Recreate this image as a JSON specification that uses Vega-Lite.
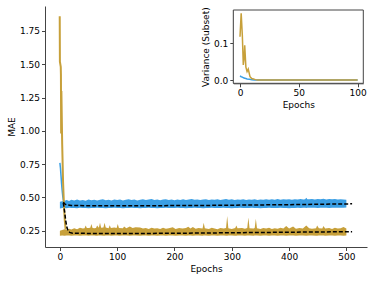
{
  "$schema": "https://vega.github.io/schema/vega-lite/v6.json",
  "width": 322,
  "height": 241,
  "autosize": "none",
  "padding": {"left": 45, "top": 6, "right": 7, "bottom": 34},
  "config": {
    "view": {"stroke": null},
    "font": "DejaVu Sans",
    "axis": {
      "grid": false,
      "domainColor": "#444444",
      "tickColor": "#444444",
      "domainWidth": 1,
      "tickWidth": 1,
      "tickSize": 3.5,
      "labelFont": "DejaVu Sans",
      "titleFont": "DejaVu Sans",
      "labelFontSize": 9,
      "titleFontSize": 9,
      "labelColor": "#000000",
      "titleColor": "#000000",
      "titleFontWeight": "normal",
      "labelPadding": 2,
      "titlePadding": 3
    }
  },
  "datasets": {
    "blueBand": [
      {"epoch": 0, "hi": 0.468, "lo": 0.418}, {"epoch": 4, "hi": 0.472, "lo": 0.42}, {"epoch": 8, "hi": 0.476, "lo": 0.421},
      {"epoch": 12, "hi": 0.48, "lo": 0.419}, {"epoch": 16, "hi": 0.474, "lo": 0.422}, {"epoch": 20, "hi": 0.482, "lo": 0.42},
      {"epoch": 25, "hi": 0.477, "lo": 0.421}, {"epoch": 30, "hi": 0.484, "lo": 0.419}, {"epoch": 35, "hi": 0.478, "lo": 0.422},
      {"epoch": 40, "hi": 0.481, "lo": 0.42}, {"epoch": 45, "hi": 0.476, "lo": 0.421}, {"epoch": 50, "hi": 0.485, "lo": 0.419},
      {"epoch": 55, "hi": 0.479, "lo": 0.421}, {"epoch": 60, "hi": 0.483, "lo": 0.42}, {"epoch": 65, "hi": 0.477, "lo": 0.422},
      {"epoch": 70, "hi": 0.482, "lo": 0.42}, {"epoch": 75, "hi": 0.486, "lo": 0.421}, {"epoch": 80, "hi": 0.479, "lo": 0.419},
      {"epoch": 85, "hi": 0.483, "lo": 0.421}, {"epoch": 90, "hi": 0.478, "lo": 0.42}, {"epoch": 95, "hi": 0.484, "lo": 0.422},
      {"epoch": 100, "hi": 0.48, "lo": 0.42}, {"epoch": 105, "hi": 0.485, "lo": 0.421}, {"epoch": 110, "hi": 0.478, "lo": 0.419},
      {"epoch": 115, "hi": 0.482, "lo": 0.421}, {"epoch": 120, "hi": 0.487, "lo": 0.42}, {"epoch": 125, "hi": 0.48, "lo": 0.422},
      {"epoch": 130, "hi": 0.484, "lo": 0.42}, {"epoch": 135, "hi": 0.478, "lo": 0.421}, {"epoch": 140, "hi": 0.483, "lo": 0.419},
      {"epoch": 145, "hi": 0.486, "lo": 0.421}, {"epoch": 150, "hi": 0.48, "lo": 0.42}, {"epoch": 155, "hi": 0.484, "lo": 0.422},
      {"epoch": 160, "hi": 0.489, "lo": 0.42}, {"epoch": 165, "hi": 0.481, "lo": 0.421}, {"epoch": 170, "hi": 0.485, "lo": 0.419},
      {"epoch": 175, "hi": 0.479, "lo": 0.421}, {"epoch": 180, "hi": 0.484, "lo": 0.42}, {"epoch": 185, "hi": 0.487, "lo": 0.422},
      {"epoch": 190, "hi": 0.481, "lo": 0.42}, {"epoch": 195, "hi": 0.485, "lo": 0.421}, {"epoch": 200, "hi": 0.479, "lo": 0.42},
      {"epoch": 205, "hi": 0.484, "lo": 0.422}, {"epoch": 210, "hi": 0.481, "lo": 0.42}, {"epoch": 215, "hi": 0.486, "lo": 0.421},
      {"epoch": 220, "hi": 0.48, "lo": 0.419}, {"epoch": 225, "hi": 0.484, "lo": 0.421}, {"epoch": 230, "hi": 0.488, "lo": 0.42},
      {"epoch": 235, "hi": 0.482, "lo": 0.422}, {"epoch": 240, "hi": 0.485, "lo": 0.42}, {"epoch": 245, "hi": 0.48, "lo": 0.421},
      {"epoch": 250, "hi": 0.484, "lo": 0.419}, {"epoch": 255, "hi": 0.487, "lo": 0.421}, {"epoch": 260, "hi": 0.481, "lo": 0.42},
      {"epoch": 265, "hi": 0.485, "lo": 0.422}, {"epoch": 270, "hi": 0.482, "lo": 0.42}, {"epoch": 275, "hi": 0.486, "lo": 0.421},
      {"epoch": 280, "hi": 0.48, "lo": 0.42}, {"epoch": 285, "hi": 0.484, "lo": 0.422}, {"epoch": 290, "hi": 0.489, "lo": 0.42},
      {"epoch": 295, "hi": 0.483, "lo": 0.421}, {"epoch": 300, "hi": 0.486, "lo": 0.419}, {"epoch": 305, "hi": 0.481, "lo": 0.421},
      {"epoch": 310, "hi": 0.485, "lo": 0.42}, {"epoch": 315, "hi": 0.482, "lo": 0.422}, {"epoch": 320, "hi": 0.487, "lo": 0.42},
      {"epoch": 325, "hi": 0.481, "lo": 0.421}, {"epoch": 330, "hi": 0.485, "lo": 0.42}, {"epoch": 335, "hi": 0.483, "lo": 0.422},
      {"epoch": 340, "hi": 0.486, "lo": 0.42}, {"epoch": 345, "hi": 0.481, "lo": 0.421}, {"epoch": 350, "hi": 0.485, "lo": 0.419},
      {"epoch": 355, "hi": 0.483, "lo": 0.421}, {"epoch": 360, "hi": 0.487, "lo": 0.42}, {"epoch": 365, "hi": 0.482, "lo": 0.422},
      {"epoch": 370, "hi": 0.486, "lo": 0.42}, {"epoch": 375, "hi": 0.483, "lo": 0.421}, {"epoch": 380, "hi": 0.488, "lo": 0.42},
      {"epoch": 385, "hi": 0.482, "lo": 0.422}, {"epoch": 390, "hi": 0.486, "lo": 0.42}, {"epoch": 395, "hi": 0.484, "lo": 0.421},
      {"epoch": 400, "hi": 0.487, "lo": 0.419}, {"epoch": 405, "hi": 0.483, "lo": 0.421}, {"epoch": 410, "hi": 0.486, "lo": 0.42},
      {"epoch": 415, "hi": 0.484, "lo": 0.422}, {"epoch": 420, "hi": 0.488, "lo": 0.421}, {"epoch": 425, "hi": 0.485, "lo": 0.422},
      {"epoch": 428, "hi": 0.487, "lo": 0.422}, {"epoch": 430, "hi": 0.497, "lo": 0.421}, {"epoch": 432, "hi": 0.487, "lo": 0.422},
      {"epoch": 435, "hi": 0.486, "lo": 0.423}, {"epoch": 440, "hi": 0.489, "lo": 0.422}, {"epoch": 445, "hi": 0.485, "lo": 0.423},
      {"epoch": 450, "hi": 0.488, "lo": 0.421}, {"epoch": 455, "hi": 0.486, "lo": 0.423}, {"epoch": 460, "hi": 0.49, "lo": 0.422},
      {"epoch": 465, "hi": 0.485, "lo": 0.423}, {"epoch": 470, "hi": 0.489, "lo": 0.421}, {"epoch": 475, "hi": 0.486, "lo": 0.423},
      {"epoch": 480, "hi": 0.488, "lo": 0.422}, {"epoch": 485, "hi": 0.485, "lo": 0.423}, {"epoch": 490, "hi": 0.487, "lo": 0.422},
      {"epoch": 495, "hi": 0.484, "lo": 0.423}, {"epoch": 500, "hi": 0.482, "lo": 0.424}
    ],
    "goldBand": [
      {"epoch": 0, "hi": 0.25, "lo": 0.213}, {"epoch": 4, "hi": 0.255, "lo": 0.214}, {"epoch": 8, "hi": 0.262, "lo": 0.213},
      {"epoch": 12, "hi": 0.258, "lo": 0.215}, {"epoch": 16, "hi": 0.265, "lo": 0.214}, {"epoch": 20, "hi": 0.26, "lo": 0.213},
      {"epoch": 25, "hi": 0.268, "lo": 0.215}, {"epoch": 30, "hi": 0.262, "lo": 0.214}, {"epoch": 35, "hi": 0.272, "lo": 0.213},
      {"epoch": 40, "hi": 0.266, "lo": 0.215}, {"epoch": 43, "hi": 0.268, "lo": 0.214}, {"epoch": 45, "hi": 0.29, "lo": 0.214},
      {"epoch": 47, "hi": 0.27, "lo": 0.214}, {"epoch": 50, "hi": 0.27, "lo": 0.213}, {"epoch": 53, "hi": 0.272, "lo": 0.215},
      {"epoch": 55, "hi": 0.3, "lo": 0.215}, {"epoch": 57, "hi": 0.27, "lo": 0.215}, {"epoch": 60, "hi": 0.268, "lo": 0.214},
      {"epoch": 63, "hi": 0.27, "lo": 0.213}, {"epoch": 65, "hi": 0.29, "lo": 0.213}, {"epoch": 68, "hi": 0.272, "lo": 0.215},
      {"epoch": 70, "hi": 0.31, "lo": 0.215}, {"epoch": 72, "hi": 0.272, "lo": 0.214}, {"epoch": 76, "hi": 0.274, "lo": 0.213},
      {"epoch": 78, "hi": 0.31, "lo": 0.213}, {"epoch": 80, "hi": 0.275, "lo": 0.214}, {"epoch": 85, "hi": 0.268, "lo": 0.215},
      {"epoch": 87, "hi": 0.292, "lo": 0.214}, {"epoch": 89, "hi": 0.27, "lo": 0.213}, {"epoch": 95, "hi": 0.275, "lo": 0.215},
      {"epoch": 99, "hi": 0.27, "lo": 0.214}, {"epoch": 101, "hi": 0.3, "lo": 0.214}, {"epoch": 103, "hi": 0.27, "lo": 0.213},
      {"epoch": 110, "hi": 0.268, "lo": 0.215}, {"epoch": 112, "hi": 0.282, "lo": 0.215}, {"epoch": 116, "hi": 0.268, "lo": 0.214},
      {"epoch": 122, "hi": 0.282, "lo": 0.213}, {"epoch": 127, "hi": 0.27, "lo": 0.215}, {"epoch": 132, "hi": 0.276, "lo": 0.214},
      {"epoch": 140, "hi": 0.275, "lo": 0.213}, {"epoch": 145, "hi": 0.266, "lo": 0.215}, {"epoch": 150, "hi": 0.27, "lo": 0.214},
      {"epoch": 155, "hi": 0.264, "lo": 0.213}, {"epoch": 160, "hi": 0.272, "lo": 0.215}, {"epoch": 165, "hi": 0.266, "lo": 0.214},
      {"epoch": 170, "hi": 0.268, "lo": 0.213}, {"epoch": 175, "hi": 0.263, "lo": 0.215}, {"epoch": 180, "hi": 0.272, "lo": 0.214},
      {"epoch": 185, "hi": 0.265, "lo": 0.213}, {"epoch": 190, "hi": 0.268, "lo": 0.215}, {"epoch": 197, "hi": 0.276, "lo": 0.214},
      {"epoch": 202, "hi": 0.264, "lo": 0.213}, {"epoch": 208, "hi": 0.27, "lo": 0.215}, {"epoch": 214, "hi": 0.266, "lo": 0.214},
      {"epoch": 220, "hi": 0.27, "lo": 0.213}, {"epoch": 224, "hi": 0.28, "lo": 0.215}, {"epoch": 228, "hi": 0.266, "lo": 0.214},
      {"epoch": 232, "hi": 0.278, "lo": 0.213}, {"epoch": 237, "hi": 0.265, "lo": 0.215}, {"epoch": 242, "hi": 0.27, "lo": 0.214},
      {"epoch": 249, "hi": 0.266, "lo": 0.213}, {"epoch": 251, "hi": 0.31, "lo": 0.214}, {"epoch": 253, "hi": 0.268, "lo": 0.214},
      {"epoch": 260, "hi": 0.264, "lo": 0.213}, {"epoch": 265, "hi": 0.272, "lo": 0.215}, {"epoch": 270, "hi": 0.266, "lo": 0.214},
      {"epoch": 275, "hi": 0.262, "lo": 0.213}, {"epoch": 280, "hi": 0.27, "lo": 0.215}, {"epoch": 286, "hi": 0.266, "lo": 0.214},
      {"epoch": 290, "hi": 0.27, "lo": 0.213}, {"epoch": 292, "hi": 0.36, "lo": 0.213}, {"epoch": 294, "hi": 0.268, "lo": 0.215},
      {"epoch": 300, "hi": 0.264, "lo": 0.214}, {"epoch": 306, "hi": 0.27, "lo": 0.213}, {"epoch": 308, "hi": 0.29, "lo": 0.213},
      {"epoch": 310, "hi": 0.268, "lo": 0.215}, {"epoch": 318, "hi": 0.27, "lo": 0.214}, {"epoch": 323, "hi": 0.265, "lo": 0.213},
      {"epoch": 327, "hi": 0.27, "lo": 0.215}, {"epoch": 329, "hi": 0.35, "lo": 0.215}, {"epoch": 331, "hi": 0.268, "lo": 0.214},
      {"epoch": 338, "hi": 0.266, "lo": 0.213}, {"epoch": 340, "hi": 0.27, "lo": 0.215}, {"epoch": 342, "hi": 0.34, "lo": 0.215},
      {"epoch": 344, "hi": 0.268, "lo": 0.214}, {"epoch": 350, "hi": 0.264, "lo": 0.213}, {"epoch": 355, "hi": 0.27, "lo": 0.215},
      {"epoch": 360, "hi": 0.266, "lo": 0.214}, {"epoch": 365, "hi": 0.272, "lo": 0.213}, {"epoch": 370, "hi": 0.264, "lo": 0.215},
      {"epoch": 375, "hi": 0.268, "lo": 0.214}, {"epoch": 380, "hi": 0.265, "lo": 0.213}, {"epoch": 385, "hi": 0.272, "lo": 0.215},
      {"epoch": 390, "hi": 0.266, "lo": 0.214}, {"epoch": 395, "hi": 0.285, "lo": 0.213}, {"epoch": 400, "hi": 0.266, "lo": 0.215},
      {"epoch": 407, "hi": 0.282, "lo": 0.214}, {"epoch": 412, "hi": 0.265, "lo": 0.213}, {"epoch": 418, "hi": 0.27, "lo": 0.215},
      {"epoch": 424, "hi": 0.266, "lo": 0.214}, {"epoch": 430, "hi": 0.29, "lo": 0.213}, {"epoch": 435, "hi": 0.268, "lo": 0.215},
      {"epoch": 440, "hi": 0.265, "lo": 0.214}, {"epoch": 447, "hi": 0.268, "lo": 0.213}, {"epoch": 449, "hi": 0.29, "lo": 0.213},
      {"epoch": 452, "hi": 0.268, "lo": 0.215}, {"epoch": 458, "hi": 0.266, "lo": 0.214}, {"epoch": 460, "hi": 0.285, "lo": 0.214},
      {"epoch": 463, "hi": 0.266, "lo": 0.213}, {"epoch": 470, "hi": 0.27, "lo": 0.215}, {"epoch": 475, "hi": 0.264, "lo": 0.214},
      {"epoch": 480, "hi": 0.272, "lo": 0.213}, {"epoch": 485, "hi": 0.266, "lo": 0.215}, {"epoch": 490, "hi": 0.268, "lo": 0.214},
      {"epoch": 495, "hi": 0.278, "lo": 0.213}, {"epoch": 500, "hi": 0.266, "lo": 0.215}
    ],
    "blueEarly": [
      {"i": 1, "epoch": 0, "value": 0.76}, {"i": 2, "epoch": 1, "value": 0.72}, {"i": 3, "epoch": 2, "value": 0.66},
      {"i": 4, "epoch": 3, "value": 0.6}, {"i": 5, "epoch": 4, "value": 0.55}, {"i": 6, "epoch": 5, "value": 0.51},
      {"i": 7, "epoch": 6, "value": 0.48}, {"i": 8, "epoch": 7, "value": 0.47}, {"i": 9, "epoch": 8, "value": 0.465}
    ],
    "goldEarly": [
      {"i": 1, "epoch": -0.3, "value": 1.86}, {"i": 2, "epoch": 0, "value": 1.52}, {"i": 3, "epoch": 1.5, "value": 1.48},
      {"i": 4, "epoch": 1.8, "value": 1.42}, {"i": 5, "epoch": 2.2, "value": 0.98}, {"i": 6, "epoch": 2.6, "value": 1.3},
      {"i": 7, "epoch": 4, "value": 0.9}, {"i": 8, "epoch": 5.5, "value": 0.62}, {"i": 9, "epoch": 7, "value": 0.45},
      {"i": 10, "epoch": 8.5, "value": 0.33}, {"i": 11, "epoch": 10, "value": 0.26}
    ],
    "fit": [
      {"s": "blue", "epoch": 6, "value": 0.465}, {"s": "blue", "epoch": 9, "value": 0.45}, {"s": "blue", "epoch": 12, "value": 0.444},
      {"s": "blue", "epoch": 20, "value": 0.44}, {"s": "blue", "epoch": 50, "value": 0.438}, {"s": "blue", "epoch": 100, "value": 0.438},
      {"s": "blue", "epoch": 150, "value": 0.438}, {"s": "blue", "epoch": 200, "value": 0.439}, {"s": "blue", "epoch": 250, "value": 0.44},
      {"s": "blue", "epoch": 300, "value": 0.442}, {"s": "blue", "epoch": 350, "value": 0.444}, {"s": "blue", "epoch": 400, "value": 0.446},
      {"s": "blue", "epoch": 450, "value": 0.449}, {"s": "blue", "epoch": 510, "value": 0.452},
      {"s": "gold", "epoch": 6, "value": 0.46}, {"s": "gold", "epoch": 8, "value": 0.4}, {"s": "gold", "epoch": 10, "value": 0.33},
      {"s": "gold", "epoch": 12, "value": 0.28}, {"s": "gold", "epoch": 14, "value": 0.252}, {"s": "gold", "epoch": 17, "value": 0.238},
      {"s": "gold", "epoch": 22, "value": 0.232}, {"s": "gold", "epoch": 50, "value": 0.23}, {"s": "gold", "epoch": 100, "value": 0.229},
      {"s": "gold", "epoch": 200, "value": 0.231}, {"s": "gold", "epoch": 300, "value": 0.235}, {"s": "gold", "epoch": 400, "value": 0.239},
      {"s": "gold", "epoch": 510, "value": 0.243}
    ],
    "insetBlue": [
      {"epoch": 0, "value": 0.011}, {"epoch": 1, "value": 0.009}, {"epoch": 2, "value": 0.008}, {"epoch": 3, "value": 0.006},
      {"epoch": 4, "value": 0.005}, {"epoch": 5, "value": 0.004}, {"epoch": 6, "value": 0.003}, {"epoch": 8, "value": 0.002},
      {"epoch": 10, "value": 0.001}, {"epoch": 12, "value": 0}, {"epoch": 100, "value": 0}
    ],
    "insetGold": [
      {"epoch": 0, "value": 0.118}, {"epoch": 1, "value": 0.182}, {"epoch": 2, "value": 0.12}, {"epoch": 2.8, "value": 0.041},
      {"epoch": 3.5, "value": 0.06}, {"epoch": 4, "value": 0.095}, {"epoch": 5, "value": 0.035}, {"epoch": 6, "value": 0.023},
      {"epoch": 7, "value": 0.03}, {"epoch": 8.5, "value": 0.009}, {"epoch": 10, "value": 0.004}, {"epoch": 11.5, "value": 0.003},
      {"epoch": 13, "value": 0.001}, {"epoch": 15, "value": 0}, {"epoch": 100, "value": 0}
    ]
  },
  "layer": [
    {
      "layer": [
        {
          "data": {"name": "blueBand"},
          "mark": {"type": "area", "color": "#3a9fe5"},
          "encoding": {
            "x": {"field": "epoch", "type": "quantitative", "scale": {"domain": [-26, 536], "nice": false, "zero": false},
                  "axis": {"orient": "bottom", "values": [0, 100, 200, 300, 400, 500], "title": "Epochs"}},
            "y": {"field": "hi", "type": "quantitative", "scale": {"domain": [0.128, 1.9375], "nice": false, "zero": false},
                  "axis": {"orient": "left", "values": [0.25, 0.5, 0.75, 1, 1.25, 1.5, 1.75], "format": ".2f", "title": "MAE"}},
            "y2": {"field": "lo"}
          }
        },
        {
          "data": {"name": "goldBand"},
          "mark": {"type": "area", "color": "#c7a03a"},
          "encoding": {
            "x": {"field": "epoch", "type": "quantitative"},
            "y": {"field": "hi", "type": "quantitative"},
            "y2": {"field": "lo"}
          }
        },
        {
          "data": {"name": "blueEarly"},
          "mark": {"type": "line", "color": "#3a9fe5", "strokeWidth": 1.5},
          "encoding": {
            "x": {"field": "epoch", "type": "quantitative"},
            "y": {"field": "value", "type": "quantitative"},
            "order": {"field": "i"}
          }
        },
        {
          "data": {"name": "goldEarly"},
          "mark": {"type": "line", "color": "#c7a03a", "strokeWidth": 2},
          "encoding": {
            "x": {"field": "epoch", "type": "quantitative"},
            "y": {"field": "value", "type": "quantitative"},
            "order": {"field": "i"}
          }
        },
        {
          "data": {"name": "fit"},
          "mark": {"type": "line", "color": "#000000", "strokeWidth": 1.5, "strokeDash": [4, 2]},
          "encoding": {
            "x": {"field": "epoch", "type": "quantitative"},
            "y": {"field": "value", "type": "quantitative"},
            "detail": {"field": "s"}
          }
        }
      ]
    },
    {
      "layer": [
        {
          "data": {"values": [{}]},
          "mark": {"type": "rect", "fill": "#ffffff", "stroke": "#444444", "strokeWidth": 1},
          "encoding": {
            "x": {"datum": -5.7, "type": "quantitative",
                  "scale": {"domain": [-5.7, 104.8], "range": [188.3, 318.3], "nice": false, "zero": false},
                  "axis": {"orient": "bottom", "offset": -163.7, "values": [0, 50, 100], "title": "Epochs"}},
            "x2": {"datum": 104.8},
            "y": {"datum": -0.009, "type": "quantitative",
                  "scale": {"domain": [-0.009, 0.191], "range": [77.3, 4], "nice": false, "zero": false},
                  "axis": {"orient": "left", "offset": -188.3, "values": [0, 0.1], "format": ".1f", "title": "Variance (Subset)"}},
            "y2": {"datum": 0.191}
          }
        },
        {
          "data": {"name": "insetBlue"},
          "mark": {"type": "line", "color": "#3a9fe5", "strokeWidth": 1.5},
          "encoding": {
            "x": {"field": "epoch", "type": "quantitative"},
            "y": {"field": "value", "type": "quantitative"}
          }
        },
        {
          "data": {"name": "insetGold"},
          "mark": {"type": "line", "color": "#c7a03a", "strokeWidth": 1.5},
          "encoding": {
            "x": {"field": "epoch", "type": "quantitative"},
            "y": {"field": "value", "type": "quantitative"}
          }
        }
      ]
    }
  ],
  "resolve": {
    "scale": {"x": "independent", "y": "independent"},
    "axis": {"x": "independent", "y": "independent"}
  }
}
